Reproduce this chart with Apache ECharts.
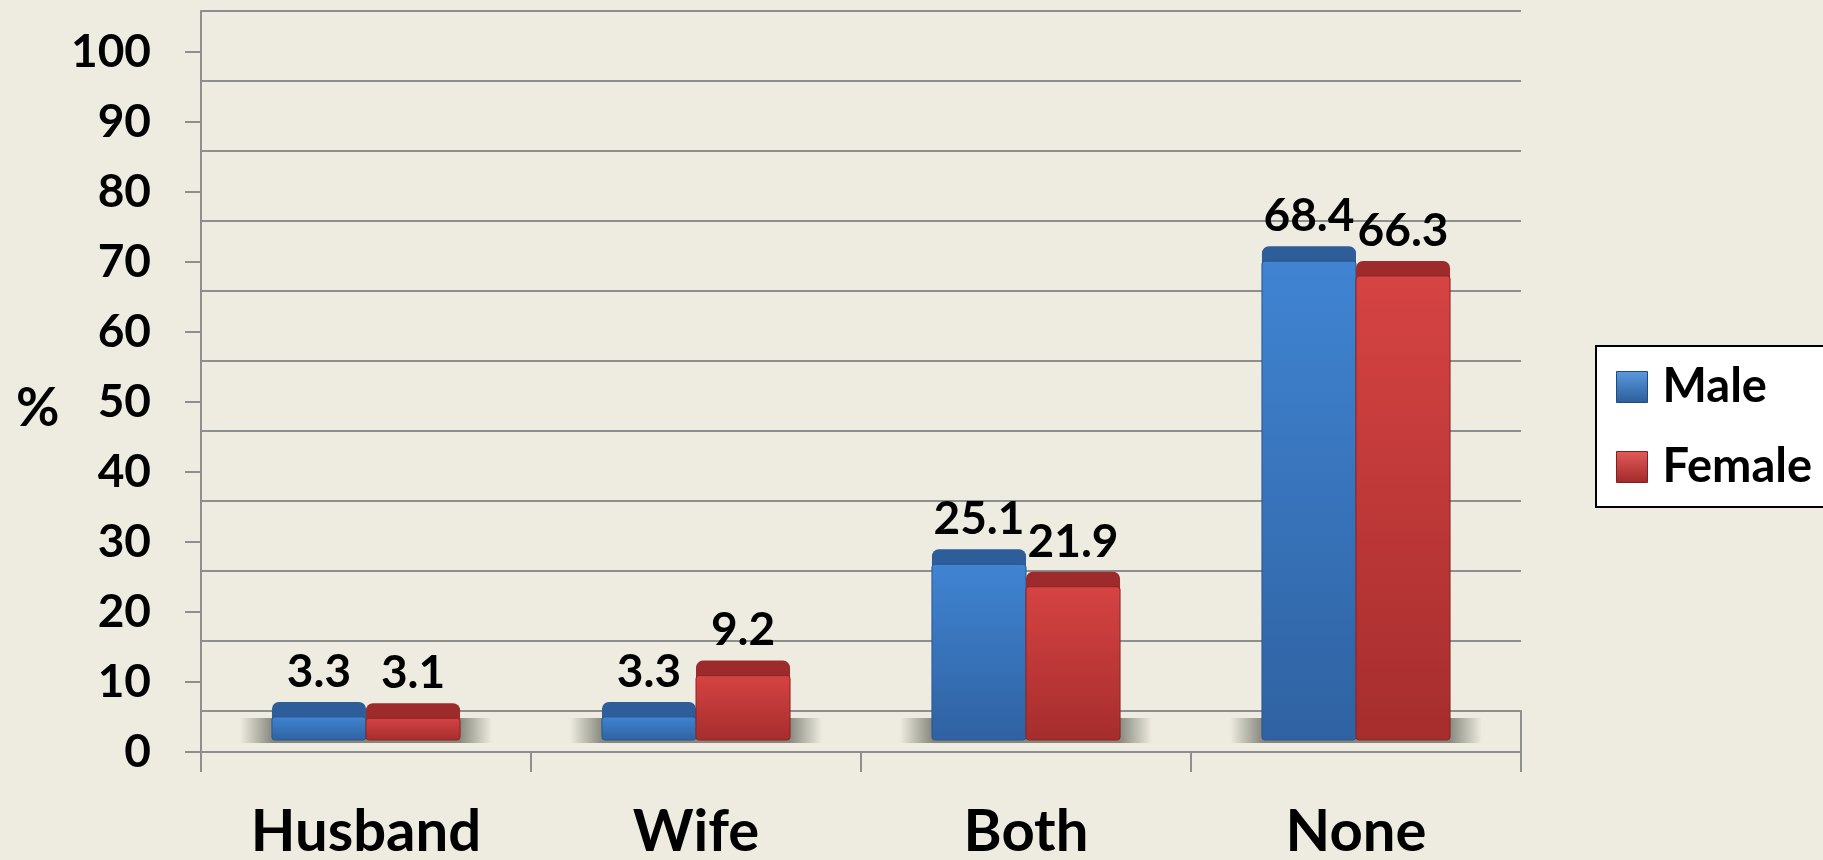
<!DOCTYPE html>
<html>
<head>
<meta charset="utf-8">
<script src="https://cdn.jsdelivr.net/npm/echarts@6/dist/echarts.min.js"></script>
<style>
html,body{margin:0;padding:0;background:#EEECE1;}
#chart{width:1823px;height:860px;}
</style>
</head>
<body>
<div id="chart"></div>
<script>
// ---- data ----
var categories = ['Husband', 'Wife', 'Both', 'None'];
var maleValues = [3.3, 3.3, 25.1, 68.4];
var femaleValues = [3.1, 9.2, 21.9, 66.3];
var seriesNames = ['Male', 'Female'];
var yTicks = [0, 10, 20, 30, 40, 50, 60, 70, 80, 90, 100];

// ---- style ----
var FONT = 'Lato, "Open Sans", sans-serif';
var LINE = '#8e8e8e';
var BAR_RATIO = 0.285;     // bar width as fraction of category band
var DEPTH = 15;            // top face height in px
var COLORS = {
  Male:   {top: '#4084d2', bottom: '#2f62a2', cap: '#2e5e9a', edge: '#2a5690'},
  Female: {top: '#d64343', bottom: '#a62d2d', cap: '#9e2b2b', edge: '#8c2424'}
};

function vgrad(c1, c2) {
  return new echarts.graphic.LinearGradient(0, 0, 0, 1, [
    {offset: 0, color: c1}, {offset: 1, color: c2}
  ]);
}

function makeRender(side, name) {
  var col = COLORS[name];
  return function (params, api) {
    var ci = api.value(0), v = api.value(1);
    var base = api.coord([ci, 0]);
    var top = api.coord([ci, v]);
    var band = api.size([1, 0])[0];
    var w = band * BAR_RATIO;
    var x = side === 0 ? base[0] - w : base[0];
    var children = [];
    if (side === 0) {
      // floor shadow below the bar pair
      children.push({
        type: 'rect',
        shape: {x: base[0] - w - 32, y: base[1] - 22, width: 2 * w + 64, height: 25},
        style: {
          fill: new echarts.graphic.LinearGradient(0, 0, 1, 0, [
            {offset: 0, color: 'rgba(110,110,100,0)'},
            {offset: 0.13, color: 'rgba(110,110,100,0.8)'},
            {offset: 0.87, color: 'rgba(110,110,100,0.8)'},
            {offset: 1, color: 'rgba(110,110,100,0)'}
          ])
        }
      });
    }
    // top face
    children.push({
      type: 'rect',
      shape: {x: x, y: top[1] - DEPTH, width: w, height: DEPTH + 6, r: [7, 7, 0, 0]},
      style: {fill: col.cap}
    });
    // front face
    children.push({
      type: 'rect',
      shape: {x: x, y: top[1], width: w, height: base[1] - top[1], r: [3, 3, 3, 3]},
      style: {fill: vgrad(col.top, col.bottom), stroke: col.edge, lineWidth: 1}
    });
    // data label
    children.push({
      type: 'text',
      style: {
        text: v.toFixed(1),
        x: x + w / 2,
        y: top[1] - DEPTH - 7,
        align: 'center',
        verticalAlign: 'bottom',
        font: 'bold 46px ' + FONT,
        fill: '#000'
      }
    });
    return {type: 'group', children: children};
  };
}

var chart = echarts.init(document.getElementById('chart'), null, {renderer: 'canvas'});

var maleData = categories.map(function (c, i) { return [i, maleValues[i]]; });
var femaleData = categories.map(function (c, i) { return [i, femaleValues[i]]; });

var option = {
  backgroundColor: '#EEECE1',
  animation: false,
  title: {
    text: '%',
    left: 11,
    top: 377,
    textStyle: {fontFamily: FONT, fontWeight: 'bold', fontSize: 53, color: '#000'}
  },
  legend: {
    orient: 'vertical',
    left: 1596,
    top: 346,
    selectedMode: false,
    backgroundColor: '#fff',
    borderColor: '#000',
    borderWidth: 2,
    padding: [16, 40, 15, 20],
    itemWidth: 31,
    itemHeight: 31,
    itemGap: 30,
    textStyle: {fontFamily: FONT, fontWeight: 'bold', fontSize: 47, color: '#000', lineHeight: 50, padding: [0, 0, 0, 10]},
    data: [
      {name: 'Male', icon: 'rect', itemStyle: {color: vgrad('#5a9ae0', '#2c5d99'), borderColor: '#23497a', borderWidth: 1}},
      {name: 'Female', icon: 'rect', itemStyle: {color: vgrad('#e45a5a', '#a02a2a'), borderColor: '#7d2020', borderWidth: 1}}
    ]
  },
  grid: [
    {left: 201, width: 1320, top: 52, height: 700, outerBoundsMode: 'none', containLabel: false},   // front axes
    {left: 201, width: 1320, top: 11, height: 700, outerBoundsMode: 'none', containLabel: false},   // back wall
    {left: 201, width: 1320, top: 40, height: 700, outerBoundsMode: 'none', containLabel: false},   // bars
    {left: 201, width: 1320, top: 711, height: 41, outerBoundsMode: 'none', containLabel: false}    // floor right edge
  ],
  xAxis: [
    {
      type: 'category', gridIndex: 0, data: categories,
      axisLine: {show: true, lineStyle: {color: LINE, width: 2}},
      axisTick: {show: true, length: 20, lineStyle: {color: LINE, width: 2}},
      axisLabel: {margin: 55, fontFamily: FONT, fontWeight: 'bold', fontSize: 58, color: '#000', lineHeight: 50},
      splitLine: {show: false}
    },
    {type: 'category', gridIndex: 1, data: categories, show: false},
    {type: 'category', gridIndex: 2, data: categories, show: false},
    {type: 'category', gridIndex: 3, data: categories, show: false}
  ],
  yAxis: [
    {
      type: 'value', gridIndex: 0, min: yTicks[0], max: yTicks[yTicks.length - 1], interval: 10,
      axisLine: {show: true, lineStyle: {color: LINE, width: 2}},
      axisTick: {show: true, length: 16, lineStyle: {color: LINE, width: 2}},
      axisLabel: {margin: 50, fontFamily: FONT, fontWeight: 'bold', fontSize: 46, color: '#000', padding: [5, 0, 0, 0]},
      splitLine: {show: false}
    },
    {
      type: 'value', gridIndex: 1, min: 0, max: 100, interval: 10,
      axisLine: {show: true, lineStyle: {color: LINE, width: 2}},
      axisTick: {show: false}, axisLabel: {show: false},
      splitLine: {show: true, lineStyle: {color: LINE, width: 2}}
    },
    {type: 'value', gridIndex: 2, min: 0, max: 100, show: false},
    {
      type: 'value', gridIndex: 3, position: 'right', min: 0, max: 1,
      axisLine: {show: true, lineStyle: {color: LINE, width: 2}},
      axisTick: {show: false}, axisLabel: {show: false}, splitLine: {show: false}
    }
  ],
  series: [
    {
      name: 'Male', type: 'custom', xAxisIndex: 2, yAxisIndex: 2,
      itemStyle: {color: '#3a76c0'},
      renderItem: makeRender(0, 'Male'), data: maleData, z: 3
    },
    {
      name: 'Female', type: 'custom', xAxisIndex: 2, yAxisIndex: 2,
      itemStyle: {color: '#c43a3a'},
      renderItem: makeRender(1, 'Female'), data: femaleData, z: 4
    }
  ]
};
chart.setOption(option);
</script>
</body>
</html>
